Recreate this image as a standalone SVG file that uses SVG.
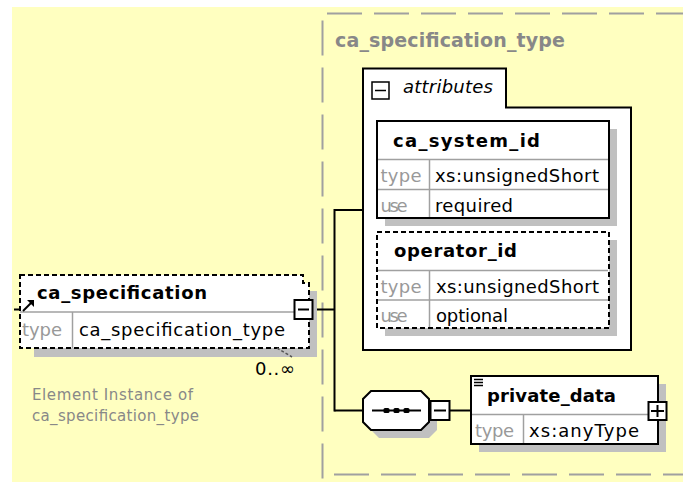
<svg xmlns="http://www.w3.org/2000/svg" width="683" height="482" viewBox="0 0 683 482">
<style>
.bg{fill:#FFFFC0}
.tb{fill:none;stroke:#A0A0A0;stroke-width:2;stroke-dasharray:35 12}
.sh{fill:#C0C0C0}
.box{fill:#fff;stroke:#000;stroke-width:2}
.dbox{fill:#fff;stroke:#000;stroke-width:2;stroke-dasharray:5 3}
.dv{stroke:#A0A0A0;stroke-width:1.5;fill:none}
.cn{stroke:#000;stroke-width:2;fill:none}
.pm{fill:#fff;stroke:#000;stroke-width:2}
.ln{stroke:#000;stroke-width:2;fill:none}
text{font-family:"DejaVu Sans","Liberation Sans",sans-serif}
.nm{font-size:18px;font-weight:bold;fill:#000}
.vl{font-size:18px;fill:#000}
.lb{font-size:18px;fill:#999}
.hd{font-size:19px;font-weight:bold;fill:#888}
.nt{font-size:15px;fill:#888}
.it{font-size:18px;font-style:italic;fill:#000}
</style>
<rect class="bg" x="12" y="7" width="671" height="475"/>

<g id="ca_specification_type">
<path class="tb" d="M327,13.5 H700"/>
<path class="tb" d="M322.5,20.5 V482"/>
<path class="tb" d="M334,474.5 H700"/>
<text class="hd" x="335" y="46.5" textLength="230">ca_specification_type</text>
</g>

<g id="connectors">
<path class="cn" d="M14,309.5 H20"/>
<path class="cn" d="M313,309.5 H334.5"/>
<path class="cn" d="M334.5,209 V411.5"/>
<path class="cn" d="M334.5,210 H363"/>
<path class="cn" d="M334.5,410.5 H363"/>
<path class="cn" d="M450,410.5 H471"/>
</g>

<g id="ca_specification">
<rect class="sh" x="34" y="291" width="283" height="66"/>
<path d="M20,275 H303 V283 H309 V348 H20 Z" fill="#fff"/>
<path d="M20,275 H303 V283 H309 V348 H20 Z" fill="none" stroke="#000" stroke-width="2" stroke-dasharray="5 3"/>
<line x1="277" y1="348" x2="292" y2="357" stroke="#555" stroke-width="1.5" stroke-dasharray="3 2"/>
<line class="dv" x1="20" y1="312" x2="294" y2="312"/>
<line class="dv" x1="72.5" y1="312" x2="72.5" y2="348"/>
<line class="ln" x1="23" y1="311" x2="31" y2="303"/>
<polygon points="34,300 34,307 27,300" fill="#000"/>
<text class="nm" x="37" y="299" textLength="170">ca_specification</text>
<text class="lb" x="22" y="336" textLength="40">type</text>
<text class="vl" x="79" y="336" textLength="206">ca_specification_type</text>
<rect class="pm" x="294.5" y="300" width="18" height="19"/>
<line class="ln" x1="298" y1="309.5" x2="309" y2="309.5"/>
<text class="vl" x="255" y="375" textLength="40">0..∞</text>
<text class="nt" x="32" y="400" textLength="161">Element Instance of</text>
<text class="nt" x="32" y="420.5" textLength="167">ca_specification_type</text>
</g>

<g id="attributes">
<path class="box" d="M363,68.5 H506 V107.5 H631 V350 H363 Z"/>
<rect x="372" y="82" width="17" height="17" fill="#fff" stroke="#000" stroke-width="1.5"/>
<line x1="375" y1="90.5" x2="386" y2="90.5" stroke="#000" stroke-width="1.5"/>
<text class="it" x="403" y="93" textLength="90">attributes</text>
</g>

<g id="ca_system_id">
<rect class="sh" x="385" y="129" width="232" height="97"/>
<rect class="box" x="377" y="121" width="232" height="97"/>
<line class="dv" x1="378" y1="159.5" x2="608" y2="159.5"/>
<line class="dv" x1="378" y1="189.5" x2="608" y2="189.5"/>
<line class="dv" x1="429.5" y1="159.5" x2="429.5" y2="217"/>
<text class="nm" x="393" y="146.5" textLength="147">ca_system_id</text>
<text class="lb" x="380.5" y="182" textLength="41">type</text>
<text class="vl" x="435" y="182" textLength="164">xs:unsignedShort</text>
<text class="lb" x="380.5" y="212" textLength="27">use</text>
<text class="vl" x="435" y="212" textLength="78">required</text>
</g>

<g id="operator_id">
<rect class="sh" x="385" y="240" width="232" height="96"/>
<rect class="dbox" x="377" y="232" width="232" height="96"/>
<line class="dv" x1="378" y1="270.5" x2="608" y2="270.5"/>
<line class="dv" x1="378" y1="300" x2="608" y2="300"/>
<line class="dv" x1="429.5" y1="270.5" x2="429.5" y2="327"/>
<text class="nm" x="394" y="256.5" textLength="123">operator_id</text>
<text class="lb" x="380.5" y="293" textLength="41">type</text>
<text class="vl" x="436" y="293" textLength="163">xs:unsignedShort</text>
<text class="lb" x="380.5" y="322" textLength="27">use</text>
<text class="vl" x="436" y="322" textLength="72">optional</text>
</g>

<g id="sequence">
<polygon class="sh" points="379,399 429,399 437,407 437,430 429,438 379,438 371,430 371,407"/>
<polygon class="box" points="371,391 421,391 429,399 429,422 421,430 371,430 363,422 363,399"/>
<line class="ln" x1="372" y1="410.5" x2="421" y2="410.5"/>
<rect x="383.5" y="408" width="6" height="5" rx="1.5" fill="#000"/>
<rect x="393.5" y="408" width="6" height="5" rx="1.5" fill="#000"/>
<rect x="403.5" y="408" width="6" height="5" rx="1.5" fill="#000"/>
<rect class="pm" x="430.5" y="401" width="19" height="19"/>
<line class="ln" x1="434" y1="410.5" x2="446" y2="410.5"/>
</g>

<g id="private_data">
<rect class="sh" x="479" y="384" width="187" height="68"/>
<rect class="box" x="471" y="376" width="187" height="68"/>
<line class="dv" x1="472" y1="414.5" x2="648" y2="414.5"/>
<line class="dv" x1="523.5" y1="414.5" x2="523.5" y2="443"/>
<line x1="474" y1="379.5" x2="483" y2="379.5" stroke="#000" stroke-width="1.5"/>
<line x1="474" y1="382.5" x2="483" y2="382.5" stroke="#000" stroke-width="1.5"/>
<line x1="474" y1="385.5" x2="483" y2="385.5" stroke="#000" stroke-width="1.5"/>
<text class="nm" x="487" y="401.5" textLength="129">private_data</text>
<text class="lb" x="475" y="437" textLength="39">type</text>
<text class="vl" x="529" y="437" textLength="110">xs:anyType</text>
<rect class="pm" x="648.5" y="402" width="18" height="18"/>
<line class="ln" x1="651" y1="411" x2="664" y2="411"/>
<line class="ln" x1="657.5" y1="405" x2="657.5" y2="417"/>
</g>
</svg>
